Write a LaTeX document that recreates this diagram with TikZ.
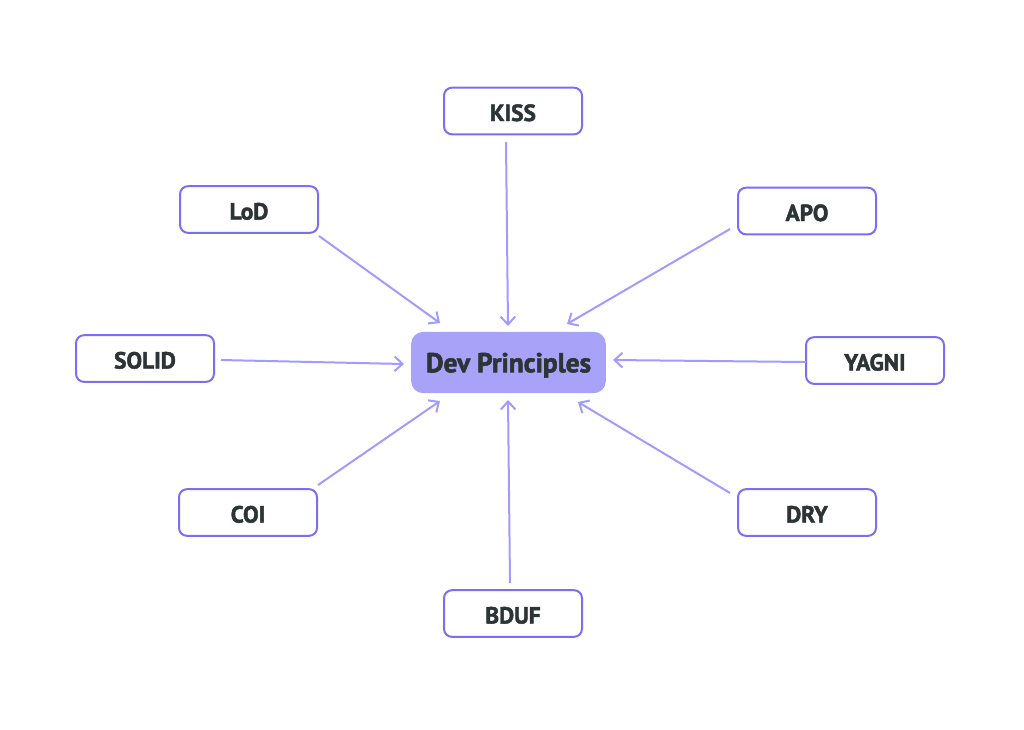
\documentclass[tikz,border=0pt]{standalone}
\usepackage{fontspec}
\setmainfont{PT Sans}[BoldFeatures={FakeBold=2}]
\usetikzlibrary{arrows.meta,calc}
\definecolor{boxline}{HTML}{7B6EF2}
\definecolor{arrowc}{HTML}{A29BFE}
\definecolor{centerfill}{HTML}{A8A3F8}
\definecolor{txt}{HTML}{2D3436}
\tikzset{
  leaf/.style={draw=boxline, line width=1.5pt, rounded corners=6pt, fill=white,
    minimum width=103.5pt, minimum height=35pt, inner sep=0pt,
    text height=15pt, text depth=0pt,
    font=\fontsize{17.5}{19}\selectfont\bfseries, text=txt},
  hub/.style={draw=none, fill=centerfill, rounded corners=9pt,
    minimum width=146pt, minimum height=46pt, inner sep=0pt,
    text height=14.6pt, text depth=0pt,
    font=\fontsize{20.5}{22}\selectfont\bfseries, text=txt},
  link/.style={draw=arrowc, line width=1.5pt, -{Straight Barb[length=6pt,width=11pt,line width=1.5pt]}}
}
\begin{document}
\begin{tikzpicture}[x=0.75pt,y=-0.75pt]
\useasboundingbox (0,0) rectangle (1024,729);
\node[hub] (c) at (508.5,362.5) {Dev Principles};
\node[leaf] (kiss) at (513,111) {KISS};
\node[leaf] (lod) at (249,209.5) {LoD};
\node[leaf] (apo) at (807,211) {APO};
\node[leaf] (solid) at (145,358.5) {SOLID};
\node[leaf] (yagni) at (875,360.5) {YAGNI};
\node[leaf] (coi) at (248,512.5) {COI};
\node[leaf] (dry) at (807,512.5) {DRY};
\node[leaf] (bduf) at (513,613.5) {BDUF};
% connectors, offsets measured from node centres
\draw[link] ($(kiss)+(-7,31)$) -- ($(c)+(-0.5,-36.5)$);
\draw[link] ($(lod)+(70,26.5)$) -- ($(c)+(-68.5,-39.5)$);
\draw[link] ($(apo)+(-77,18)$) -- ($(c)+(58.5,-38.5)$);
\draw[link] ($(solid)+(76,1.5)$) -- ($(c)+(-104.5,1.5)$);
\draw[link] ($(yagni)+(-69,1.5)$) -- ($(c)+(104.5,-2.5)$);
\draw[link] ($(coi)+(70,-27.5)$) -- ($(c)+(-68.5,38.5)$);
\draw[link] ($(dry)+(-77,-19.5)$) -- ($(c)+(69.5,39.5)$);
\draw[link] ($(bduf)+(-3,-30.5)$) -- ($(c)+(-0.5,37.5)$);
\end{tikzpicture}
\end{document}
